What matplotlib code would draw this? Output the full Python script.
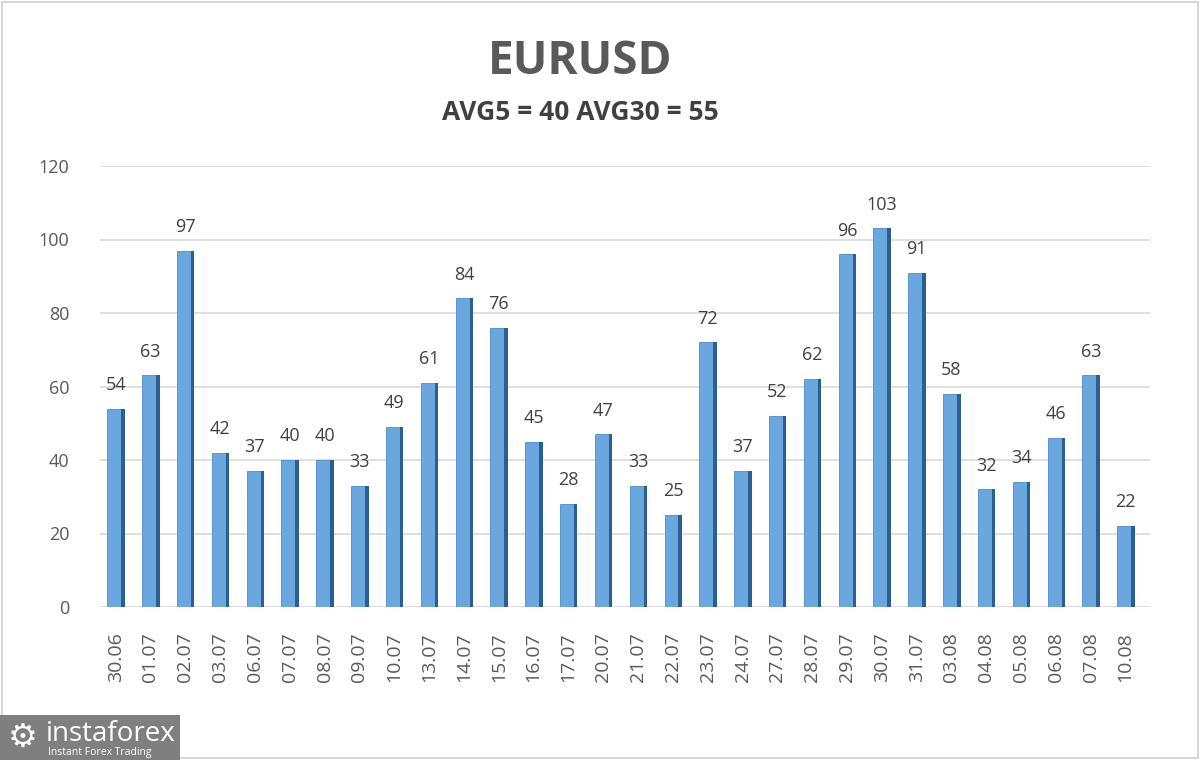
import matplotlib
matplotlib.use("Agg")
import matplotlib.pyplot as plt
from matplotlib.patches import Rectangle

dates = ["30.06", "01.07", "02.07", "03.07", "06.07", "07.07", "08.07", "09.07",
         "10.07", "13.07", "14.07", "15.07", "16.07", "17.07", "20.07", "21.07",
         "22.07", "23.07", "24.07", "27.07", "28.07", "29.07", "30.07", "31.07",
         "03.08", "04.08", "05.08", "06.08", "07.08", "10.08"]
values = [54, 63, 97, 42, 37, 40, 40, 33, 49, 61, 84, 76, 45, 28, 47, 33,
          25, 72, 37, 52, 62, 96, 103, 91, 58, 32, 34, 46, 63, 22]
yticks = [0, 20, 40, 60, 80, 100, 120]
title = "EURUSD"
subtitle = "AVG5 = 40 AVG30 = 55"

plt.rcParams['font.family'] = ['Open Sans', 'DejaVu Sans']
W, H = 1200, 760
fig = plt.figure(figsize=(12, 7.6), dpi=100)
ax = fig.add_axes([100 / W, 1 - 607 / H, (1150 - 100) / W, (607 - 166) / H])

x = list(range(len(values)))
front_w = 0.4
side_w = 0.1
ax.bar([i - 0.04 for i in x], values, width=front_w, color="#6AA7DE",
       edgecolor="#4C8CC8", linewidth=0.6, zorder=3)
ax.bar([i + 0.16 + side_w / 2 for i in x], values, width=side_w, color="#2B5F92",
       linewidth=0, zorder=3)

for i, v in zip(x, values):
    ax.text(i, v + 4, str(v), ha="center", va="bottom", fontsize=13,
            color="#404040", zorder=4)

ax.set_xlim(-0.45, 29.7)
ax.set_ylim(0, 120)
ax.set_yticks(yticks)
ax.set_yticklabels([str(t) for t in yticks], fontsize=13, color="#595959")
ax.set_xticks(x)
ax.set_xticklabels(dates, rotation=90, fontsize=14, color="#595959")
ax.tick_params(axis="y", length=0, pad=22)
ax.tick_params(axis="x", length=0, pad=18)
ax.grid(axis="y", color="#D9D9D9", linewidth=1.2, zorder=0)
ax.set_axisbelow(True)
for s in ax.spines.values():
    s.set_visible(False)

fig.text(580 / W, 1 - 62 / H, title, ha="center", va="center", fontsize=33,
         fontweight="bold", color="#595959")
fig.text(580 / W, 1 - 113 / H, subtitle, ha="center", va="center", fontsize=19,
         fontweight="bold", color="#404040")

# figure border
fig.patches.append(Rectangle((2 / W, 2 / H), 1 - 4 / W, 1 - 4 / H,
                             transform=fig.transFigure, fill=False,
                             edgecolor="#D0D0D0", linewidth=1.2))
# watermark
fig.patches.append(Rectangle((0, 0), 180 / W, 45 / H, transform=fig.transFigure,
                             facecolor="#7F7F7F", edgecolor="none"))
fig.text(46 / W, 1 - 734 / H, "instaforex", ha="left", va="center",
         fontsize=20, color="white")
fig.text(48 / W, 1 - 752 / H, "Instant Forex Trading", ha="left", va="center",
         fontsize=7.5, color="white")
fig.text(23 / W, 1 - 737 / H, "\u2699", ha="center", va="center",
         fontsize=24, color="white", family="DejaVu Sans")

fig.savefig("out.png", dpi=100, facecolor="white")
